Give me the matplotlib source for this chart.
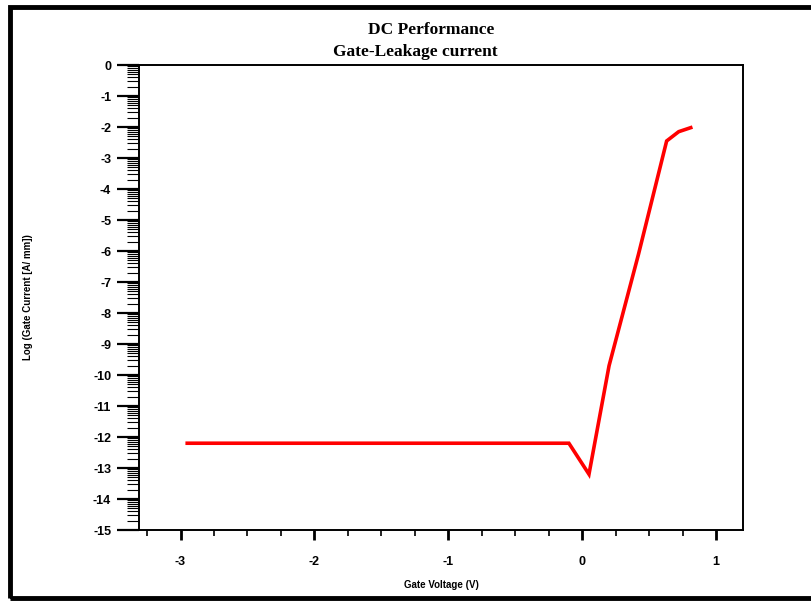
import numpy as np
import matplotlib.pyplot as plt
from matplotlib.patches import Rectangle
from matplotlib.ticker import MultipleLocator, FixedLocator

plt.rcParams['axes.unicode_minus'] = False

# values
gate_v = [-2.95, -0.10, 0.05, 0.20, 0.42, 0.63, 0.72, 0.81]
log_ig = [-12.2, -12.2, -13.2, -9.7, -6.1, -2.45, -2.15, -2.02]
x_ticks = [-3, -2, -1, 0, 1]
y_ticks = list(range(0, -16, -1))

fig = plt.figure(figsize=(8.12, 6.01), dpi=100)
ax = fig.add_axes([0.1712, 0.1181, 0.9150 - 0.1712, 0.8918 - 0.1181])

ax.plot(gate_v, log_ig, color='#ff0000', lw=2.6, solid_joinstyle='miter')

ax.set_xlim(-3.31, 1.20)
ax.set_ylim(-15, 0)
ax.set_xticks(x_ticks)
ax.xaxis.set_minor_locator(MultipleLocator(0.25))
ax.set_yticks(y_ticks)
# log-decade minor ticks inside each unit
minor_y = [d + np.log10(k) for d in range(-15, 0) for k in range(2, 10)]
ax.yaxis.set_minor_locator(FixedLocator(minor_y))

ax.tick_params(axis='y', which='major', direction='out', length=16, width=1.6,
               labelsize=9, pad=4)
ax.tick_params(axis='y', which='minor', direction='out', length=8.5, width=0.8)
ax.tick_params(axis='x', which='major', direction='out', length=7, width=2,
               labelsize=9, pad=12)
ax.tick_params(axis='x', which='minor', direction='out', length=4, width=1.2)
for lab in ax.get_xticklabels() + ax.get_yticklabels():
    lab.set_fontweight('bold')
    lab.set_fontfamily('Liberation Sans')

for sp in ax.spines.values():
    sp.set_linewidth(1.4)

ax.set_xlabel('Gate Voltage (V)', fontsize=7, fontweight='bold',
              family='Liberation Sans')
ax.xaxis.set_label_coords(0.5, -0.108)
ax.set_ylabel('Log (Gate Current [A/ mm])', fontsize=7, fontweight='bold',
              family='Liberation Sans')
ax.yaxis.set_label_coords(-0.175, 0.5)

fig.text(0.531, 0.950, 'DC Performance', ha='center', va='center',
         fontsize=12.5, fontweight='bold', family='Liberation Serif')
fig.text(0.511, 0.913, 'Gate-Leakage current', ha='center', va='center',
         fontsize=12.5, fontweight='bold', family='Liberation Serif')

# heavy frame round the picture
fig.patches.append(Rectangle((10 / 812, 1 - 598 / 601), 1.0, (598 - 7) / 601,
                             transform=fig.transFigure, fill=False,
                             edgecolor='black', lw=3.5, clip_on=False))

fig.savefig('out.png', dpi=100)
